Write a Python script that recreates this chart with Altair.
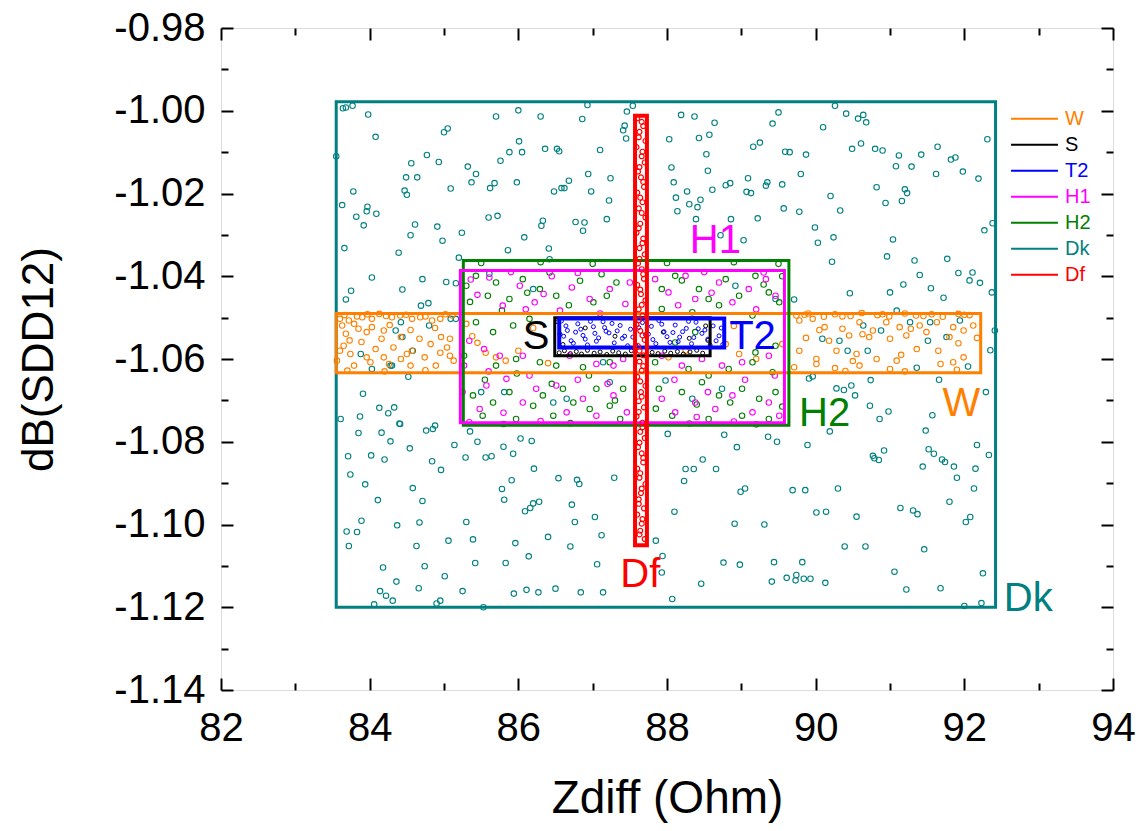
import altair as alt
import pandas as pd

# ---------------- data ----------------
series_order = ["W", "S", "T2", "H1", "H2", "Dk", "Df"]
series_colors = ["#FF8000", "#000000", "#0000FF", "#FF00FF", "#008000", "#008080", "#FF0000"]

dk_points = [
    (83.64, -0.9994), (83.77, -0.9988), (83.68, -0.9992), (83.98, -1.0009), (84.08, -1.0063), (83.55, -1.0110),
    (85.00, -1.0052), (85.05, -1.0043), (85.70, -1.0014), (86.00, -0.9999), (86.30, -1.0014), (86.86, -1.0020),
    (86.93, -0.9986), (87.46, -1.0002), (87.54, -0.9988), (87.43, -1.0036), (87.41, -1.0047), (87.45, -1.0067),
    (86.01, -1.0074), (85.88, -1.0100), (86.05, -1.0100), (86.36, -1.0092), (86.52, -1.0092), (86.55, -1.0098),
    (87.10, -1.0095), (84.77, -1.0107), (84.56, -1.0127), (84.93, -1.0124), (85.76, -1.0121), (85.32, -1.0135),
    (85.43, -1.0153), (84.49, -1.0161), (84.64, -1.0161), (85.37, -1.0173), (85.68, -1.0175), (85.62, -1.0187),
    (85.98, -1.0173), (85.09, -1.0188), (83.78, -1.0195), (84.47, -1.0193), (84.50, -1.0203), (86.68, -1.0169),
    (86.58, -1.0187), (86.62, -1.0187), (86.94, -1.0153), (87.24, -1.0163), (86.98, -1.0195), (86.48, -1.0195),
    (88.06, -1.0137), (88.12, -1.0210), (88.14, -1.0243), (87.22, -1.0217), (83.63, -1.0228), (83.97, -1.0232),
    (83.96, -1.0243), (83.82, -1.0256), (84.09, -1.0249), (83.92, -1.0277), (85.60, -1.0258), (85.72, -1.0254),
    (86.33, -1.0266), (86.31, -1.0278), (86.77, -1.0269), (86.89, -1.0270), (86.87, -1.0290), (87.19, -1.0262),
    (84.61, -1.0275), (84.55, -1.0301), (84.91, -1.0280), (84.98, -1.0314), (85.24, -1.0295), (86.08, -1.0306),
    (83.66, -1.0332), (84.39, -1.0343), (86.41, -1.0333), (85.86, -1.0337), (85.20, -1.0355),
    (88.19, -1.0010), (88.37, -1.0014), (88.64, -1.0029), (89.50, -1.0004), (89.42, -1.0031), (90.26, -0.9988),
    (90.41, -1.0007), (90.57, -1.0019), (90.64, -1.0010), (90.68, -1.0028), (90.10, -1.0040), (88.03, -1.0069),
    (88.43, -1.0066), (88.57, -1.0058), (89.16, -1.0087), (89.25, -1.0077), (89.59, -1.0099), (89.65, -1.0100),
    (89.87, -1.0106), (90.49, -1.0092), (90.61, -1.0079), (90.80, -1.0092), (90.90, -1.0096), (91.12, -1.0108),
    (91.42, -1.0106), (91.64, -1.0087), (92.31, -1.0069), (88.53, -1.0105), (88.55, -1.0145), (91.82, -1.0118),
    (91.88, -1.0113), (91.98, -1.0147), (92.19, -1.0164), (91.08, -1.0134), (91.29, -1.0135), (91.62, -1.0153),
    (89.80, -1.0153), (88.09, -1.0173), (88.27, -1.0195), (88.45, -1.0215), (88.61, -1.0191), (88.79, -1.0180),
    (88.85, -1.0175), (89.09, -1.0163), (89.07, -1.0196), (89.13, -1.0199), (89.33, -1.0181), (89.35, -1.0173),
    (89.55, -1.0178), (90.20, -1.0206), (90.33, -1.0241), (90.82, -1.0185), (90.94, -1.0223), (91.16, -1.0218),
    (91.20, -1.0190), (91.23, -1.0199), (88.30, -1.0226), (88.41, -1.0233), (89.57, -1.0236), (89.78, -1.0244),
    (88.39, -1.0262), (88.86, -1.0262), (89.22, -1.0260), (89.99, -1.0282), (90.24, -1.0306), (90.03, -1.0319),
    (91.04, -1.0311), (90.96, -1.0352), (91.33, -1.0362), (91.77, -1.0358), (92.27, -1.0289), (92.38, -1.0272),
    (88.72, -1.0301), (89.03, -1.0313), (90.22, -1.0365),
    (91.40, -1.0397), (91.18, -1.0420), (91.00, -1.0439), (90.46, -1.0441), (91.92, -1.0392), (92.11, -1.0391),
    (92.07, -1.0410), (92.21, -1.0416), (91.55, -1.0429), (91.72, -1.0452), (92.37, -1.0439), (89.71, -1.0456),
    (92.35, -1.0579), (92.41, -1.0531), (92.05, -1.0618), (91.36, -1.0621), (89.91, -1.0647), (89.96, -1.0642),
    (90.74, -1.0651), (91.66, -1.0650), (90.28, -1.0671), (90.38, -1.0675), (90.48, -1.0664), (90.53, -1.0688),
    (90.73, -1.0713), (90.98, -1.0727), (90.86, -1.0745), (92.29, -1.0680), (91.57, -1.0736),
    (90.09, -1.0551), (90.32, -1.0556), (90.43, -1.0580), (90.64, -1.0519), (90.70, -1.0580), (90.88, -1.0531),
    (91.09, -1.0483), (91.27, -1.0511), (91.51, -1.0556), (91.54, -1.0511), (91.76, -1.0547), (91.94, -1.0507),
    (84.42, -1.0511), (84.35, -1.0531), (84.44, -1.0547), (84.58, -1.0580), (84.80, -1.0519), (83.88, -1.0588),
    (84.28, -1.0616), (85.09, -1.0503), (85.16, -1.0503),
    (84.03, -1.0403), (83.75, -1.0435), (83.68, -1.0456), (84.44, -1.0432), (84.71, -1.0407), (84.69, -1.0471),
    (84.79, -1.0465), (85.03, -1.0414), (85.16, -1.0417), (83.91, -1.0684), (84.13, -1.0718), (84.25, -1.0731),
    (84.33, -1.0717), (84.40, -1.0756), (83.87, -1.0739), (83.61, -1.0745), (84.03, -1.0624), (84.52, -1.0643),
    (84.30, -1.0616),
    (83.85, -1.0779), (84.16, -1.0778), (84.28, -1.0799), (84.54, -1.0816), (84.41, -1.0757), (84.76, -1.0773),
    (84.85, -1.0769), (84.88, -1.0761), (84.84, -1.0847), (84.96, -1.0868), (83.71, -1.0835), (84.02, -1.0833),
    (84.20, -1.0843), (83.74, -1.0879), (83.94, -1.0903), (85.14, -1.0808), (85.35, -1.0775), (85.45, -1.0800),
    (85.29, -1.0838), (85.56, -1.0838), (85.64, -1.0835), (85.80, -1.0812), (85.93, -1.0829), (86.03, -1.0792),
    (86.18, -1.0798), (86.21, -1.0865), (85.91, -1.0893), (85.78, -1.0914), (85.81, -1.0940), (84.58, -1.0912),
    (84.71, -1.0943), (84.11, -1.0941), (83.89, -1.0991), (83.69, -1.1017), (83.83, -1.1018), (83.72, -1.1052),
    (84.37, -1.1002), (84.67, -1.0995), (85.30, -1.0994), (85.06, -1.1039), (85.39, -1.1036), (84.63, -1.1052),
    (86.09, -1.0968), (86.16, -1.0960), (86.20, -1.0949), (86.28, -1.0945), (85.96, -1.1045), (86.40, -1.1030),
    (86.54, -1.0888), (86.79, -1.0892), (86.82, -1.0902), (86.72, -1.0952), (86.76, -1.0994), (86.70, -1.1053),
    (87.03, -1.0982), (87.12, -1.1026), (87.29, -1.0887), (84.18, -1.1104), (84.36, -1.1138), (84.14, -1.1161),
    (84.22, -1.1172), (84.31, -1.1184), (84.06, -1.1193), (84.74, -1.1101), (84.66, -1.1154), (85.01, -1.1125),
    (84.90, -1.1191), (84.95, -1.1184), (85.25, -1.1161), (85.42, -1.1093), (85.83, -1.1093), (86.14, -1.1077),
    (86.11, -1.1158), (86.27, -1.1164), (85.94, -1.1167), (86.50, -1.1155), (86.84, -1.1164), (87.14, -1.1164),
    (87.06, -1.1096), (85.53, -1.1200),
    (88.01, -1.0781), (88.77, -1.0783), (88.94, -1.0813), (89.36, -1.0788), (89.48, -1.0800), (89.89, -1.0808),
    (90.19, -1.0775), (88.48, -1.0843), (88.25, -1.0866), (88.36, -1.0866), (88.66, -1.0866), (88.23, -1.0895),
    (88.99, -1.0921), (89.05, -1.0913), (89.69, -1.0917), (89.86, -1.0917), (90.30, -1.0913), (88.10, -1.0969),
    (88.91, -1.0998), (89.31, -1.1000), (90.01, -1.0971), (90.14, -1.0969), (90.55, -1.0981), (87.85, -1.1039),
    (87.94, -1.1076), (87.93, -1.1116), (88.07, -1.1180), (88.46, -1.1143), (88.76, -1.1092), (88.98, -1.1097),
    (89.44, -1.1091), (89.82, -1.1091), (89.41, -1.1138), (89.61, -1.1129), (89.73, -1.1135), (89.74, -1.1122),
    (89.84, -1.1131), (89.93, -1.1131), (90.13, -1.1141), (90.39, -1.1053), (90.67, -1.1053), (91.06, -1.1114),
    (91.22, -1.1157), (91.68, -1.1154), (91.46, -1.1060), (90.77, -1.0834), (90.79, -1.0840), (90.85, -1.0844),
    (90.92, -1.0821), (91.48, -1.0773), (91.52, -1.0818), (91.59, -1.0829), (91.70, -1.0843), (91.74, -1.0849),
    (91.86, -1.0860), (91.44, -1.0860), (91.90, -1.0887), (92.17, -1.0808), (92.33, -1.0832), (92.15, -1.0865),
    (92.13, -1.0913), (91.80, -1.0945), (92.02, -1.0994), (92.08, -1.0982), (92.25, -1.1118), (92.23, -1.1190),
    (92.00, -1.1197), (91.14, -1.0960), (91.31, -1.0966), (91.37, -1.0975),
    (85.50, -1.0680), (85.81, -1.0680), (86.47, -1.0705), (86.65, -1.0696), (87.14, -1.0608), (87.23, -1.0656),
    (85.61, -1.0394), (86.20, -1.0431), (86.42, -1.0359), (87.98, -1.0652), (88.34, -1.0696), (88.74, -1.0672),
    (88.92, -1.0423), (89.46, -1.0455),
]

w_points = [
    (83.60, -1.0503), (83.72, -1.0507), (83.90, -1.0499), (84.03, -1.0503), (84.13, -1.0491), (84.30, -1.0499),
    (84.41, -1.0495), (84.57, -1.0503), (84.68, -1.0499), (84.84, -1.0507), (84.95, -1.0503), (85.11, -1.0495),
    (83.63, -1.0519), (83.79, -1.0515), (84.03, -1.0523), (83.68, -1.0539), (83.96, -1.0535), (84.19, -1.0531),
    (83.73, -1.0555), (83.89, -1.0559), (84.16, -1.0551), (84.42, -1.0547), (84.67, -1.0551), (84.96, -1.0547),
    (85.08, -1.0551), (83.65, -1.0568), (84.08, -1.0576), (84.32, -1.0572), (84.57, -1.0580), (84.82, -1.0564),
    (85.04, -1.0572), (83.74, -1.0588), (83.96, -1.0596), (84.19, -1.0596), (84.50, -1.0588), (84.74, -1.0596),
    (85.08, -1.0592), (83.56, -1.0604), (83.79, -1.0616), (84.01, -1.0608), (84.26, -1.0612), (84.55, -1.0616),
    (84.89, -1.0616), (85.13, -1.0604),
    (83.66, -1.0494), (83.83, -1.0497), (83.97, -1.0492), (84.22, -1.0496), (84.49, -1.0493), (84.75, -1.0497),
    (85.02, -1.0492), (83.85, -1.0527), (84.27, -1.0518), (84.55, -1.0530), (84.88, -1.0525), (83.60, -1.0580),
    (84.42, -1.0600), (84.95, -1.0585),
    (89.74, -1.0495), (89.90, -1.0490), (90.11, -1.0498), (90.26, -1.0492), (90.47, -1.0496), (90.62, -1.0489),
    (90.83, -1.0494), (90.99, -1.0497), (91.20, -1.0490), (91.35, -1.0495), (91.56, -1.0492), (91.71, -1.0498),
    (91.92, -1.0491), (92.07, -1.0494),
    (89.78, -1.0507), (89.96, -1.0503), (90.12, -1.0523), (90.36, -1.0527), (90.59, -1.0511), (90.77, -1.0531),
    (90.95, -1.0511), (91.13, -1.0523), (91.40, -1.0519), (91.63, -1.0511), (91.85, -1.0523), (92.12, -1.0519),
    (89.87, -1.0549), (90.18, -1.0556), (90.45, -1.0543), (90.72, -1.0547), (91.00, -1.0551), (91.22, -1.0543),
    (91.49, -1.0535), (91.80, -1.0547), (91.99, -1.0531), (92.17, -1.0549), (89.78, -1.0580), (90.01, -1.0600),
    (90.28, -1.0580), (90.55, -1.0588), (90.82, -1.0600), (91.09, -1.0604), (91.36, -1.0576), (91.65, -1.0580),
    (91.99, -1.0596), (89.71, -1.0620), (90.01, -1.0612), (90.26, -1.0622), (90.59, -1.0616), (91.00, -1.0624),
    (91.68, -1.0612),
    (89.85, -1.0493), (90.36, -1.0497), (90.90, -1.0492), (91.45, -1.0496), (92.00, -1.0493), (90.05, -1.0530),
    (90.63, -1.0540), (91.28, -1.0527), (91.92, -1.0562), (90.50, -1.0605), (91.15, -1.0590), (91.85, -1.0608),
    (85.30, -1.0515), (85.38, -1.0545), (85.45, -1.0561), (85.56, -1.0585), (85.70, -1.0596), (85.83, -1.0604),
    (86.00, -1.0580), (86.40, -1.0610), (86.20, -1.0525), (88.79, -1.0564), (88.97, -1.0588), (88.25, -1.0580),
    (88.02, -1.0596), (89.55, -1.0564), (88.90, -1.0520), (89.20, -1.0600),
    (83.70, -1.0628), (84.20, -1.0630), (84.75, -1.0627), (90.40, -1.0629), (91.20, -1.0630), (91.90, -1.0626),
]

h2_points = [
    (85.30, -1.0423), (85.43, -1.0399), (85.59, -1.0447), (85.70, -1.0415), (85.88, -1.0455), (86.06, -1.0407),
    (86.29, -1.0431), (86.42, -1.0391), (86.51, -1.0447), (86.83, -1.0411), (87.01, -1.0463), (87.19, -1.0447),
    (87.32, -1.0415), (85.43, -1.0511), (85.66, -1.0535), (85.93, -1.0519), (86.15, -1.0503), (85.27, -1.0592),
    (85.70, -1.0616), (85.97, -1.0600), (86.29, -1.0608), (86.51, -1.0616), (86.87, -1.0620), (87.23, -1.0608),
    (85.39, -1.0688), (85.66, -1.0705), (85.88, -1.0680), (86.20, -1.0713), (86.33, -1.0688), (86.60, -1.0672),
    (86.74, -1.0705), (87.05, -1.0672), (87.23, -1.0713), (87.41, -1.0672), (85.52, -1.0737), (85.97, -1.0745),
    (86.47, -1.0737), (86.96, -1.0721), (87.37, -1.0745),
    (87.93, -1.0431), (88.11, -1.0399), (88.43, -1.0431), (88.56, -1.0455), (88.79, -1.0407), (88.97, -1.0447),
    (89.19, -1.0399), (89.37, -1.0439), (89.51, -1.0463), (87.93, -1.0479), (88.34, -1.0487), (89.15, -1.0495),
    (88.11, -1.0560), (88.38, -1.0535), (89.19, -1.0584), (89.46, -1.0568), (87.84, -1.0608), (88.29, -1.0624),
    (88.56, -1.0640), (88.83, -1.0624), (89.15, -1.0608), (89.42, -1.0632), (87.89, -1.0672), (88.20, -1.0680),
    (88.47, -1.0656), (88.70, -1.0688), (89.01, -1.0672), (89.24, -1.0696), (89.46, -1.0680), (88.07, -1.0737),
    (88.56, -1.0745), (89.01, -1.0737), (89.37, -1.0745),
    (85.50, -1.0368), (86.30, -1.0366), (87.00, -1.0370), (88.00, -1.0368), (88.90, -1.0366), (89.50, -1.0370),
    (85.80, -1.0757), (86.70, -1.0755), (88.30, -1.0756), (89.20, -1.0758),
    (85.35, -1.0462), (85.78, -1.0483), (86.12, -1.0440), (86.68, -1.0470), (87.12, -1.0395), (85.55, -1.0650),
    (85.98, -1.0635), (86.45, -1.0660), (86.95, -1.0640), (87.30, -1.0700), (88.20, -1.0410), (88.70, -1.0470),
    (89.30, -1.0420), (88.40, -1.0710), (88.85, -1.0705), (89.55, -1.0715), (87.85, -1.0720), (89.55, -1.0400),
]

h1_points = [
    (85.36, -1.0408), (85.61, -1.0403), (85.79, -1.0471), (86.02, -1.0423), (86.22, -1.0463), (86.34, -1.0443),
    (86.56, -1.0483), (86.72, -1.0427), (86.96, -1.0455), (87.23, -1.0431), (87.44, -1.0467), (87.50, -1.0415),
    (85.34, -1.0556), (85.54, -1.0576), (85.75, -1.0592), (85.27, -1.0616), (85.57, -1.0664), (85.84, -1.0648),
    (86.06, -1.0705), (86.24, -1.0672), (86.51, -1.0664), (86.65, -1.0729), (86.87, -1.0696), (87.05, -1.0737),
    (87.28, -1.0688), (87.46, -1.0729), (85.48, -1.0721), (85.34, -1.0753), (86.06, -1.0592), (86.69, -1.0592),
    (87.05, -1.0612), (87.28, -1.0616), (87.41, -1.0600),
    (87.84, -1.0407), (88.02, -1.0439), (88.25, -1.0399), (88.38, -1.0455), (88.70, -1.0415), (88.88, -1.0463),
    (89.10, -1.0431), (89.33, -1.0407), (89.46, -1.0447), (87.93, -1.0592), (88.20, -1.0616), (88.47, -1.0600),
    (88.74, -1.0616), (89.01, -1.0608), (89.37, -1.0592), (87.93, -1.0696), (88.11, -1.0729), (88.38, -1.0705),
    (88.65, -1.0721), (88.88, -1.0688), (89.15, -1.0729), (89.37, -1.0705), (89.51, -1.0737),
    (85.90, -1.0390), (86.80, -1.0392), (88.50, -1.0390), (89.30, -1.0391), (86.30, -1.0750), (88.90, -1.0751),
    (85.45, -1.0445), (86.10, -1.0480), (86.45, -1.0400), (87.10, -1.0490), (85.60, -1.0630), (86.15, -1.0640),
    (86.80, -1.0650), (87.20, -1.0660), (85.80, -1.0730), (88.15, -1.0470), (88.60, -1.0440), (89.20, -1.0480),
    (88.10, -1.0650), (88.55, -1.0680), (89.05, -1.0650), (89.45, -1.0640), (88.40, -1.0740), (85.25, -1.0680),
]

s_points = [
    (86.55, -1.0585), (86.62, -1.0580), (86.70, -1.0587), (86.78, -1.0582), (86.85, -1.0588), (86.93, -1.0579),
    (87.02, -1.0586), (87.10, -1.0583), (87.19, -1.0589), (87.27, -1.0581), (87.35, -1.0585), (87.44, -1.0588),
    (87.52, -1.0580), (87.80, -1.0584), (87.88, -1.0587), (87.97, -1.0581), (88.05, -1.0586), (88.14, -1.0582),
    (88.22, -1.0588), (88.31, -1.0583), (88.40, -1.0579), (88.48, -1.0586), (86.53, -1.0510), (86.56, -1.0540),
    (86.60, -1.0565), (88.52, -1.0520), (88.55, -1.0555), (86.90, -1.0525), (87.30, -1.0545), (87.95, -1.0535),
    (88.30, -1.0550),
]

t2_points = [
    (86.58, -1.0508), (86.66, -1.0531), (86.71, -1.0556), (86.80, -1.0515), (86.87, -1.0543), (86.93, -1.0566),
    (87.01, -1.0522), (87.08, -1.0549), (87.14, -1.0510), (87.22, -1.0537), (87.29, -1.0561), (87.37, -1.0519),
    (87.43, -1.0545), (87.51, -1.0528), (87.58, -1.0567), (87.67, -1.0512), (87.75, -1.0540), (87.81, -1.0553),
    (87.89, -1.0507), (87.96, -1.0534), (88.04, -1.0560), (88.11, -1.0518), (88.17, -1.0547), (88.26, -1.0526),
    (88.33, -1.0563), (88.39, -1.0511), (88.47, -1.0538), (88.55, -1.0552), (88.62, -1.0520), (88.70, -1.0544),
    (88.75, -1.0565), (86.61, -1.0545), (86.74, -1.0562), (86.84, -1.0528), (86.97, -1.0509), (87.05, -1.0557),
    (87.18, -1.0533), (87.26, -1.0514), (87.40, -1.0550), (87.47, -1.0568), (87.62, -1.0524), (87.71, -1.0541),
    (87.85, -1.0563), (87.93, -1.0516), (88.08, -1.0536), (88.15, -1.0558), (88.29, -1.0509), (88.36, -1.0548),
    (88.51, -1.0530), (88.58, -1.0566), (88.73, -1.0525),
    (86.64, -1.0520), (86.77, -1.0535), (86.90, -1.0552), (87.03, -1.0538), (87.16, -1.0524), (87.33, -1.0532),
    (87.54, -1.0547), (87.79, -1.0521), (88.00, -1.0546), (88.21, -1.0534), (88.42, -1.0527), (88.66, -1.0556),
]

df_points = [
    (87.60, -1.0018), (87.68, -1.0037), (87.63, -1.0051), (87.71, -1.0073), (87.59, -1.0088), (87.66, -1.0110),
    (87.70, -1.0125), (87.61, -1.0147), (87.65, -1.0161), (87.69, -1.0184), (87.60, -1.0198), (87.67, -1.0221),
    (87.62, -1.0236), (87.71, -1.0258), (87.64, -1.0273), (87.59, -1.0295), (87.68, -1.0309), (87.63, -1.0332),
    (87.70, -1.0347), (87.61, -1.0369), (87.66, -1.0383), (87.69, -1.0406), (87.60, -1.0421), (87.65, -1.0443),
    (87.71, -1.0458), (87.62, -1.0480), (87.67, -1.0495), (87.59, -1.0517), (87.64, -1.0532), (87.70, -1.0554),
    (87.61, -1.0569), (87.68, -1.0591), (87.63, -1.0606), (87.66, -1.0628), (87.60, -1.0643), (87.71, -1.0665),
    (87.65, -1.0680), (87.62, -1.0702), (87.69, -1.0717), (87.59, -1.0739), (87.67, -1.0754), (87.64, -1.0776),
    (87.70, -1.0791), (87.61, -1.0813), (87.66, -1.0828), (87.68, -1.0850), (87.60, -1.0865), (87.63, -1.0887),
    (87.71, -1.0902), (87.65, -1.0924), (87.62, -1.0939), (87.69, -1.0961), (87.60, -1.0976), (87.66, -1.0998),
    (87.64, -1.1015), (87.70, -1.1035),
    (87.66, -1.0027), (87.62, -1.0064), (87.67, -1.0099), (87.63, -1.0136), (87.68, -1.0172), (87.64, -1.0210),
    (87.66, -1.0247), (87.62, -1.0284), (87.67, -1.0320), (87.63, -1.0358), (87.68, -1.0395), (87.64, -1.0432),
    (87.66, -1.0469), (87.62, -1.0506), (87.67, -1.0543), (87.63, -1.0580), (87.68, -1.0617), (87.64, -1.0654),
    (87.66, -1.0691), (87.62, -1.0728), (87.67, -1.0765), (87.63, -1.0802), (87.68, -1.0839), (87.64, -1.0876),
    (87.66, -1.0913), (87.62, -1.0950), (87.67, -1.0987), (87.63, -1.1024),
]

# bounding boxes of each series
box_series = ["Dk", "W", "H2", "H1", "S", "T2", "Df"]
box_x1 = [83.55, 83.55, 85.26, 85.22, 86.49, 86.55, 87.57]
box_x2 = [92.42, 92.22, 89.64, 89.58, 88.58, 88.77, 87.73]
box_y1 = [-1.1200, -1.0633, -1.0760, -1.0754, -1.0592, -1.0572, -1.1050]
box_y2 = [-0.9978, -1.0490, -1.0362, -1.0386, -1.0500, -1.0502, -1.0012]

# annotation labels
label_text = ["W", "S", "T2", "H1", "H2", "Dk", "Df"]
label_x = [91.96, 86.24, 89.15, 88.65, 90.12, 92.86, 87.64]
label_y = [-1.0708, -1.0548, -1.0548, -1.0316, -1.0732, -1.1179, -1.1123]

x_ticks = [82, 84, 86, 88, 90, 92, 94]
x_minor = [83, 85, 87, 89, 91, 93]
y_ticks = [-0.98, -1.00, -1.02, -1.04, -1.06, -1.08, -1.10, -1.12, -1.14]
y_minor = [-0.99, -1.01, -1.03, -1.05, -1.07, -1.09, -1.11, -1.13]

# ---------------- tables ----------------
def pts(name, rows):
    return pd.DataFrame({"x": [r[0] for r in rows], "y": [r[1] for r in rows], "series": name})

big_df = pd.concat([pts("Dk", dk_points), pts("W", w_points), pts("H2", h2_points), pts("H1", h1_points)],
                   ignore_index=True)
small_df = pd.concat([pts("S", s_points), pts("T2", t2_points)], ignore_index=True)
dfp_df = pts("Df", df_points)
boxes = pd.DataFrame({"series": box_series, "x1": box_x1, "x2": box_x2, "y1": box_y1, "y2": box_y2})
main_boxes = boxes[~boxes.series.isin(["Df", "T2"])]
t2_box = boxes[boxes.series == "T2"]
df_box = boxes[boxes.series == "Df"]
labels = pd.DataFrame({"series": label_text, "text": label_text, "x": label_x, "y": label_y})

# ---------------- styling ----------------
FONT = "Liberation Sans"
sx = alt.Scale(domain=[82, 94], nice=False, zero=False)
sy = alt.Scale(domain=[-1.14, -0.98], nice=False, zero=False)
sc = alt.Scale(domain=series_order, range=series_colors)

legend = alt.Legend(
    title=None, orient="none", legendX=789, legendY=78, symbolType="stroke", symbolSize=2200,
    symbolStrokeWidth=2, clipHeight=25.3, rowPadding=0, padding=0, labelFont=FONT, labelFontSize=20,
    labelOffset=6, labelColor={"expr": "scale('color', datum.value)"},
)

ylab = "replace(format(datum.value, '.2f'), '\u2212', '-')"

common = dict(domain=False, grid=False, tickColor="black", tickWidth=2, labelFlush=False,
              labelOverlap=False, labelBound=False)

# negative tick sizes point the ticks into the plot, as in the reference
ax_x_main = alt.Axis(orient="bottom", values=x_ticks, format="d", title="Zdiff (Ohm)",
                     tickSize={"expr": "-12"}, labelFont=FONT, labelFontSize=40, labelColor="black",
                     labelPadding=30, titleFont=FONT, titleFontSize=46, titleFontWeight="normal",
                     titleColor="black", titlePadding=28, **common)
ax_y_main = alt.Axis(orient="left", values=y_ticks, labelExpr=ylab, title="dB(SDD12)",
                     tickSize={"expr": "-12"}, labelFont=FONT, labelFontSize=40, labelColor="black",
                     labelPadding=28, titleFont=FONT, titleFontSize=44, titleFontWeight="normal",
                     titleColor="black", titlePadding=52, **common)
ax_x_top = alt.Axis(orient="top", values=x_ticks, labels=False, title=None, tickSize={"expr": "-12"}, **common)
ax_y_right = alt.Axis(orient="right", values=y_ticks, labels=False, title=None, tickSize={"expr": "-12"}, **common)
ax_x_minb = alt.Axis(orient="bottom", values=x_minor, labels=False, title=None, tickSize={"expr": "-7"}, **common)
ax_y_minl = alt.Axis(orient="left", values=y_minor, labels=False, title=None, tickSize={"expr": "-7"}, **common)
ax_x_mint = alt.Axis(orient="top", values=x_minor, labels=False, title=None, tickSize={"expr": "-7"}, **common)
ax_y_minr = alt.Axis(orient="right", values=y_minor, labels=False, title=None, tickSize={"expr": "-7"}, **common)

color = alt.Color("series:N", scale=sc, legend=legend)

points_big = alt.Chart(big_df).mark_point(shape="circle", filled=False, size=30, strokeWidth=1.1, opacity=1).encode(
    x=alt.X("x:Q", scale=sx, axis=ax_x_main),
    y=alt.Y("y:Q", scale=sy, axis=ax_y_main),
    color=color,
)
points_small = alt.Chart(small_df).mark_point(shape="circle", filled=False, size=16, strokeWidth=1, opacity=1).encode(
    x=alt.X("x:Q", scale=sx, axis=ax_x_minb),
    y=alt.Y("y:Q", scale=sy, axis=ax_y_minl),
    color=color,
)
rects = alt.Chart(main_boxes).mark_rect(filled=False, strokeWidth=3).encode(
    x=alt.X("x1:Q", scale=sx, axis=ax_x_top),
    x2="x2:Q",
    y=alt.Y("y1:Q", scale=sy, axis=ax_y_right),
    y2="y2:Q",
    color=color,
)
rect_t2 = alt.Chart(t2_box).mark_rect(filled=False, strokeWidth=4).encode(
    x=alt.X("x1:Q", scale=sx, axis=None),
    x2="x2:Q",
    y=alt.Y("y1:Q", scale=sy, axis=None),
    y2="y2:Q",
    color=color,
)
points_df = alt.Chart(dfp_df).mark_point(shape="circle", filled=False, size=24, strokeWidth=1.2, opacity=1).encode(
    x=alt.X("x:Q", scale=sx, axis=None),
    y=alt.Y("y:Q", scale=sy, axis=None),
    color=color,
)
rect_df = alt.Chart(df_box).mark_rect(filled=False, strokeWidth=4).encode(
    x=alt.X("x1:Q", scale=sx, axis=None),
    x2="x2:Q",
    y=alt.Y("y1:Q", scale=sy, axis=None),
    y2="y2:Q",
    color=color,
)
texts = alt.Chart(labels).mark_text(font=FONT, fontSize=40, align="center", baseline="middle").encode(
    x=alt.X("x:Q", scale=sx, axis=ax_x_mint),
    y=alt.Y("y:Q", scale=sy, axis=ax_y_minr),
    text="text:N",
    color=color,
)

chart = alt.layer(points_big, points_small, rects, rect_t2, points_df, rect_df, texts).resolve_axis(
    x="independent", y="independent"
).properties(
    width=892, height=662,
    autosize=alt.AutoSizeParams(type="none"),
    padding={"left": 221, "top": 28, "right": 25, "bottom": 141},
).configure_view(stroke="black", strokeWidth=2).configure(background="white")

chart.save("out.html", embed_options={"renderer": "svg", "actions": False})
